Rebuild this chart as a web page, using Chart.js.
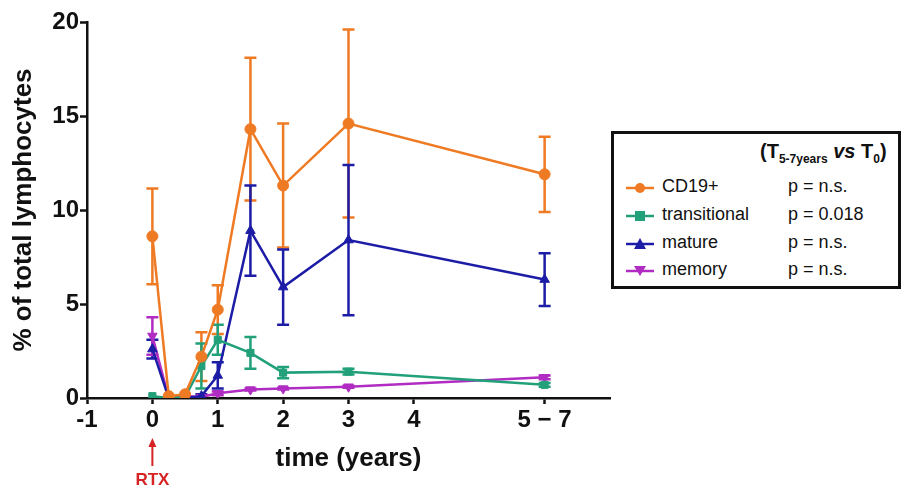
<!DOCTYPE html>
<html lang="en">
<head>
<meta charset="UTF-8">
<title>% of total lymphocytes after RTX</title>
<script src="https://cdn.jsdelivr.net/npm/chart.js@4.4.1/dist/chart.umd.min.js"></script>
<style>
    body { margin: 0; background: #fff; font-family: "Liberation Sans", Arial, sans-serif; }
    .wrap { position: relative; width: 901px; height: 488px; }
    .legend-box { position: absolute; left: 611px; top: 131px; width: 284px; height: 152px; border: 3px solid #111; background: #fff; }
    .legend-head { position: absolute; left: 146px; top: 6px; font-weight: bold; font-size: 20px; color: #111; white-space: nowrap; }
    .legend-head sub { font-size: 12px; }
    .row { position: absolute; left: 0; height: 22px; width: 100%; font-size: 18px; color: #111; }
    .row svg { position: absolute; left: 12px; top: 4px; }
    .row .lab { position: absolute; left: 48px; top: -1px; }
    .row .p { position: absolute; left: 174px; top: -1px; }
</style>
</head>
<body>
<div class="wrap">
    <canvas id="chart" width="901" height="488"></canvas>
    <div class="legend-box" id="legend">
        <div class="legend-head">(T<sub>5-7years</sub> <i>vs</i> T<sub>0</sub>)</div>
    </div>
</div>
<script>
// time points, 6 stands for the "5 - 7" years group
const times = [0, 0.25, 0.5, 0.75, 1, 1.5, 2, 3, 6];
const xTickValues = [-1, 0, 1, 2, 3, 4, 6];
const xTickLabels = ["-1", "0", "1", "2", "3", "4", "5 \u2212 7"];
const yTickValues = [0, 5, 10, 15, 20];

const seriesNames = ["CD19+", "transitional", "mature", "memory"];
const pValues = ["p = n.s.", "p = 0.018", "p = n.s.", "p = n.s."];

const cd19 = [8.6, 0.1, 0.2, 2.2, 4.7, 14.3, 11.3, 14.6, 11.9];
const cd19Err = [2.55, 0, 0, 1.3, 1.3, 3.8, 3.3, 5.0, 2.0];
const transitional = [0.1, 0.0, 0.05, 1.7, 3.1, 2.4, 1.35, 1.4, 0.7];
const transitionalErr = [0, 0, 0, 1.2, 0.8, 0.85, 0.3, 0.15, 0.1];
const mature = [2.6, 0.0, 0.0, 0.1, 1.2, 8.9, 5.9, 8.4, 6.3];
const matureErr = [0.5, 0, 0, 0.1, 0.7, 2.4, 2.0, 4.0, 1.4];
const memory = [3.3, 0.0, 0.1, 0.05, 0.25, 0.45, 0.5, 0.6, 1.1];
const memoryErr = [1.0, 0, 0, 0, 0.1, 0.05, 0.05, 0.05, 0.1];

const colors = ["#ef7a24", "#22a07a", "#1c1ca6", "#b02cc2"];
const pointStyles = ["circle", "rect", "triangle", "triangle"];
const rotations = [0, 0, 0, 180];

const values = [cd19, transitional, mature, memory];
const errors = [cd19Err, transitionalErr, matureErr, memoryErr];

const FONT = "'Liberation Sans', Arial, sans-serif";

const datasets = values.map((vals, i) => ({
    label: seriesNames[i],
    data: vals.map((v, j) => ({x: times[j], y: v})),
    err: errors[i],
    borderColor: colors[i],
    backgroundColor: colors[i],
    borderWidth: 2.5,
    pointStyle: pointStyles[i],
    pointRotation: rotations[i],
    pointRadius: i === 1 ? 5 : 5.5,
    pointBorderWidth: 1,
    tension: 0
}));

// vertical error bars with caps
const errorBars = {
    id: "errorBars",
    beforeDatasetsDraw(chart) {
        const ctx = chart.ctx;
        const xs = chart.scales.x, ys = chart.scales.y;
        chart.data.datasets.forEach((ds) => {
            ctx.save();
            ctx.strokeStyle = ds.borderColor;
            ctx.lineWidth = 2.5;
            ds.data.forEach((pt, j) => {
                const e = ds.err[j];
                if (!e) return;
                const px = xs.getPixelForValue(pt.x);
                const top = ys.getPixelForValue(pt.y + e);
                const bot = ys.getPixelForValue(Math.max(0, pt.y - e));
                ctx.beginPath();
                ctx.moveTo(px, top); ctx.lineTo(px, bot);
                ctx.moveTo(px - 6, top); ctx.lineTo(px + 6, top);
                if (pt.y - e > 0) { ctx.moveTo(px - 6, bot); ctx.lineTo(px + 6, bot); }
                ctx.stroke();
            });
            ctx.restore();
        });
    }
};

// red RTX arrow under time 0
const rtxMark = {
    id: "rtxMark",
    afterDraw(chart) {
        const ctx = chart.ctx;
        const px = chart.scales.x.getPixelForValue(0);
        const base = chart.chartArea.bottom;
        ctx.save();
        ctx.strokeStyle = "#d62424";
        ctx.fillStyle = "#d62424";
        ctx.lineWidth = 2;
        ctx.beginPath();
        ctx.moveTo(px, base + 68); ctx.lineTo(px, base + 47);
        ctx.stroke();
        ctx.beginPath();
        ctx.moveTo(px, base + 40); ctx.lineTo(px - 4, base + 49); ctx.lineTo(px + 4, base + 49);
        ctx.closePath(); ctx.fill();
        ctx.font = "bold 17px " + FONT;
        ctx.textAlign = "center";
        ctx.textBaseline = "middle";
        ctx.fillText("RTX", px, base + 82);
        ctx.restore();
    }
};

new Chart("chart", {
    type: "line",
    data: {datasets: datasets},
    plugins: [errorBars, rtxMark],
    options: {
        responsive: false,
        animation: false,
        layout: {padding: {left: 0, top: 22, right: 291, bottom: 0}},
        plugins: {legend: {display: false}, tooltip: {enabled: false}},
        scales: {
            x: {
                type: "linear",
                min: -1, max: 7,
                afterBuildTicks: (s) => { s.ticks = xTickValues.map(v => ({value: v})); },
                afterFit: (s) => { s.height = 90; },
                ticks: {
                    autoSkip: false,
                    maxRotation: 0,
                    padding: 2,
                    color: "#111",
                    font: {family: FONT, size: 24, weight: "bold"},
                    callback: (v) => xTickLabels[xTickValues.indexOf(v)]
                },
                grid: {drawOnChartArea: false, tickLength: 6, tickWidth: 2.5, color: "#111"},
                border: {color: "#111", width: 2.5},
                title: {display: true, text: "time (years)", color: "#111",
                        font: {family: FONT, size: 26, weight: "bold"}, padding: {bottom: 14}}
            },
            y: {
                min: 0, max: 20,
                afterBuildTicks: (s) => { s.ticks = yTickValues.map(v => ({value: v})); },
                afterFit: (s) => { s.width = 87; },
                ticks: {padding: 1, color: "#111", font: {family: FONT, size: 24, weight: "bold"}},
                grid: {drawOnChartArea: false, tickLength: 7, tickWidth: 2.5, color: "#111"},
                border: {color: "#111", width: 2.5},
                title: {display: true, text: "% of total lymphocytes", color: "#111",
                        font: {family: FONT, size: 26, weight: "bold"}, padding: {top: 8}}
            }
        }
    }
});

// legend rows with p values
const icons = {
    circle: (c) => `<circle cx="14" cy="7" r="5" fill="${c}"/>`,
    rect: (c) => `<rect x="9" y="2" width="10" height="10" fill="${c}"/>`,
    triangle: (c, r) => r ? `<polygon points="8,2 20,2 14,12" fill="${c}"/>` : `<polygon points="14,1 20,12 8,12" fill="${c}"/>`
};
const rowTops = [43, 71, 99, 126];
const box = document.getElementById("legend");
seriesNames.forEach((name, i) => {
    const row = document.createElement("div");
    row.className = "row";
    row.style.top = rowTops[i] + "px";
    row.innerHTML = `<svg width="28" height="14"><line x1="0" y1="7" x2="28" y2="7" stroke="${colors[i]}" stroke-width="2.5"/>${icons[pointStyles[i]](colors[i], rotations[i])}</svg>`
        + `<span class="lab">${name}</span><span class="p">${pValues[i]}</span>`;
    box.appendChild(row);
});
</script>
</body>
</html>
